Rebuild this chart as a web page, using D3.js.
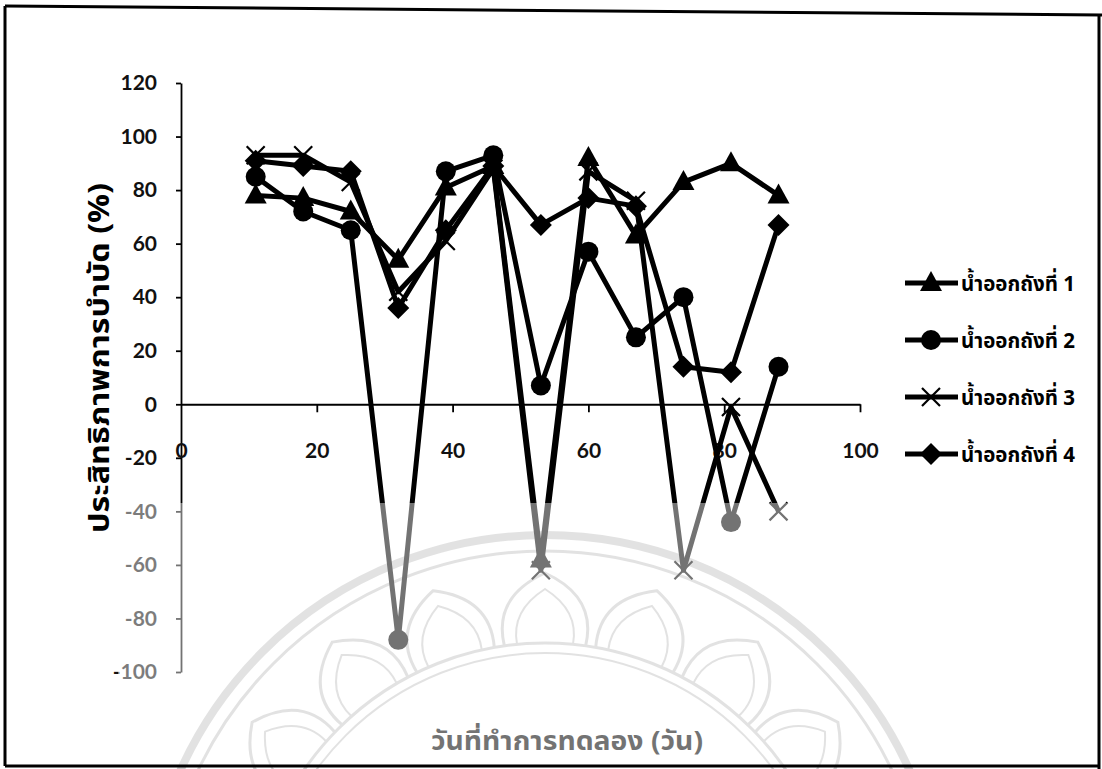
<!DOCTYPE html>
<html>
<head>
<meta charset="utf-8">
<script src="https://cdn.jsdelivr.net/npm/d3@7"></script>
<style>
  body { margin: 0; background: #fff; }
  .tick text { font-family: Lato, "Open Sans", sans-serif; font-weight: 700; font-size: 21px; fill: #111; }
  .thai { font-family: "Noto Sans Thai", "Noto Sans", "DejaVu Sans", sans-serif; font-weight: 700; }
</style>
</head>
<body>
<script>
// days of the experiment
const days = [11, 18, 25, 32, 39, 46, 53, 60, 67, 74, 81, 88];
// treatment efficiency (%) per effluent tank
const tank1 = [78, 77, 72, 54, 81, 89, -58, 92, 63, 83, 90, 78];
const tank2 = [85, 72, 65, -88, 87, 93, 7, 57, 25, 40, -44, 14];
const tank3 = [93, 93, 83, 42, 61, 88, -62, 87, 76, -62, -1, -40];
const tank4 = [91, 89, 87, 36, 65, 89, 67, 77, 74, 14, 12, 67];
const seriesNames = ["น้ำออกถังที่ 1", "น้ำออกถังที่ 2", "น้ำออกถังที่ 3", "น้ำออกถังที่ 4"];
const markers = ["triangle", "circle", "cross", "diamond"];
const xTicks = [0, 20, 40, 60, 80, 100];
const yTicks = [-100, -80, -60, -40, -20, 0, 20, 40, 60, 80, 100, 120];
const yTitle = "ประสิทธิภาพการบำบัด (%)";
const xTitle = "วันที่ทำการทดลอง (วัน)";

const W = 1102, H = 769;
const svg = d3.select("body").append("svg").attr("width", W).attr("height", H);
svg.append("rect").attr("width", W).attr("height", H).attr("fill", "#fff");

const x = d3.scaleLinear().domain([0, 100]).range([181, 860]);
const y = d3.scaleLinear().domain([-100, 120]).range([672, 83]);

// watermark emblem (sits under the chart, faded by the overlay later)
const wm = svg.append("g").attr("fill", "none").attr("stroke", "#cbcbcb");
const cx = 545, cy = 935;
wm.append("circle").attr("cx", cx).attr("cy", cy).attr("r", 400).attr("stroke-width", 8);
wm.append("circle").attr("cx", cx).attr("cy", cy).attr("r", 384).attr("stroke-width", 3);
wm.append("circle").attr("cx", cx).attr("cy", cy).attr("r", 292).attr("stroke-width", 3);
wm.append("circle").attr("cx", cx).attr("cy", cy).attr("r", 282).attr("stroke-width", 2);
d3.range(-72, 73, 18).forEach(a => {
  const r0 = 292, r1 = 362, half = 8;
  const p = (ang, r) => [cx + r * Math.sin(ang * Math.PI / 180), cy - r * Math.cos(ang * Math.PI / 180)];
  [0, 1].forEach(k => {
    const rr1 = r1 - k * 16, hh = half - k * 2.5;
    const b1 = p(a - hh, r0), b2 = p(a + hh, r0), tip = p(a, rr1);
    const c1 = p(a - hh * 1.1, rr1 - 20), c2 = p(a + hh * 1.1, rr1 - 20);
    wm.append("path")
      .attr("d", `M${b1}Q${c1} ${tip}Q${c2} ${b2}`)
      .attr("stroke-width", k ? 2 : 3);
  });
});

// axes
const yAxis = svg.append("g").attr("transform", `translate(${x(0)},0)`)
  .call(d3.axisLeft(y).tickValues(yTicks).tickFormat(d => String(d))
    .tickSize(5).tickPadding(19).tickSizeOuter(0));
const xAxis = svg.append("g").attr("transform", `translate(0,${y(0)})`)
  .call(d3.axisBottom(x).tickValues(xTicks).tickFormat(d => String(d))
    .tickSize(8).tickPadding(31).tickSizeOuter(0));
[yAxis, xAxis].forEach(g => {
  g.selectAll("path, line").attr("stroke", "#000").attr("stroke-width", 1.8);
});
xAxis.selectAll(".tick").filter(d => d === 0).select("line").remove();

// series
const series = [tank1, tank2, tank3, tank4].map((vals, i) => ({
  name: seriesNames[i], marker: markers[i],
  points: days.map((d, j) => ({ x: d, y: vals[j] }))
}));

const line = d3.line().x(d => x(d.x)).y(d => y(d.y));

function drawMarker(g, type, px, py) {
  if (type === "triangle") {
    g.append("path").attr("d", `M${px},${py - 12}L${px + 11},${py + 8}L${px - 11},${py + 8}Z`).attr("fill", "#000");
  } else if (type === "circle") {
    g.append("circle").attr("cx", px).attr("cy", py).attr("r", 10).attr("fill", "#000");
  } else if (type === "diamond") {
    g.append("path").attr("d", `M${px},${py - 11}L${px + 11},${py}L${px},${py + 11}L${px - 11},${py}Z`).attr("fill", "#000");
  } else {
    g.append("path").attr("d", `M${px - 9},${py - 9}L${px + 9},${py + 9}M${px - 9},${py + 9}L${px + 9},${py - 9}`)
      .attr("stroke", "#000").attr("stroke-width", 2.2).attr("fill", "none");
  }
}

const plot = svg.append("g");
series.forEach(s => {
  plot.append("path").datum(s.points).attr("d", line)
    .attr("fill", "none").attr("stroke", "#000").attr("stroke-width", 5).attr("stroke-linejoin", "round");
});
series.forEach(s => {
  const g = plot.append("g");
  s.points.forEach(p => drawMarker(g, s.marker, x(p.x), y(p.y)));
});

// x axis title
svg.append("text").attr("class", "thai").attr("x", 567).attr("y", 750)
  .attr("text-anchor", "middle").attr("font-size", 26).attr("fill", "#000")
  .attr("textLength", 272).attr("lengthAdjust", "spacingAndGlyphs")
  .text(xTitle);

// faded lower part of the scan
svg.append("rect").attr("x", 118).attr("y", 503).attr("width", 975).attr("height", 262)
  .attr("fill", "#fff").attr("fill-opacity", 0.45);

// y axis title
svg.append("text").attr("class", "thai")
  .attr("transform", "translate(109,358) rotate(-90)")
  .attr("text-anchor", "middle").attr("font-size", 28).attr("fill", "#000")
  .attr("textLength", 350).attr("lengthAdjust", "spacingAndGlyphs")
  .text(yTitle);

// legend
const legend = svg.append("g");
series.forEach((s, i) => {
  const ly = 283 + i * 57;
  legend.append("line").attr("x1", 905).attr("x2", 958).attr("y1", ly).attr("y2", ly)
    .attr("stroke", "#000").attr("stroke-width", 5);
  drawMarker(legend, s.marker, 931, ly);
  legend.append("text").attr("class", "thai").attr("x", 961).attr("y", ly + 8)
    .attr("font-size", 22).attr("fill", "#000")
    .attr("textLength", 114).attr("lengthAdjust", "spacingAndGlyphs")
    .text(s.name);
});

// scanned page frame
const frame = svg.append("g").attr("stroke", "#000").attr("stroke-width", 3).attr("fill", "none");
frame.append("line").attr("x1", 5).attr("y1", 6).attr("x2", 1102).attr("y2", 15);
frame.append("line").attr("x1", 5).attr("y1", 6).attr("x2", 5).attr("y2", 766);
frame.append("line").attr("x1", 5).attr("y1", 766).attr("x2", 1100).attr("y2", 766);
frame.append("line").attr("x1", 1099).attr("y1", 14).attr("x2", 1099).attr("y2", 769);
</script>
</body>
</html>
